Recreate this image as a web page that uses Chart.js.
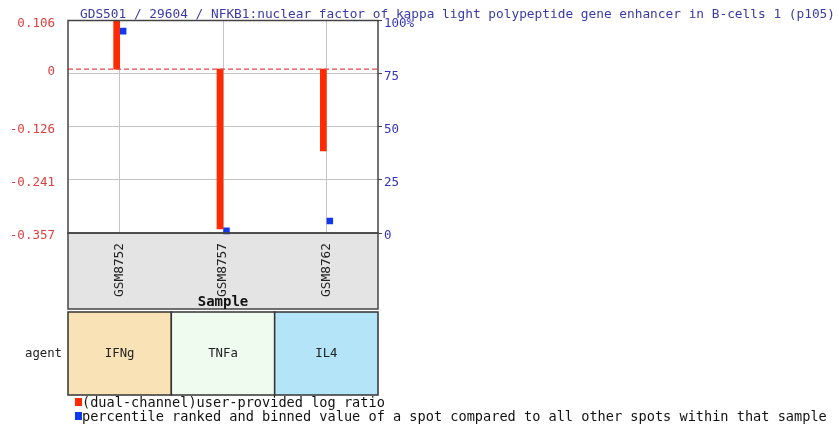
<!DOCTYPE html>
<html>
<head>
<meta charset="utf-8">
<script src="https://cdn.jsdelivr.net/npm/chart.js@4.4.1/dist/chart.umd.min.js"></script>
<style>
  html, body { margin: 0; padding: 0; background: #fff; }
</style>
</head>
<body>
<canvas id="geoChart" width="838" height="433"></canvas>
<script>
// values
const samples = ['GSM8752', 'GSM8757', 'GSM8762'];
const logRatio = [0.106, -0.348, -0.178];
const percentile = [95, 1, 5.6];
const agents = ['IFNg', 'TNFa', 'IL4'];
const agentColors = ['#f9e2b6', '#f0fbf0', '#b4e4f8'];
const leftTicks = [0.106, 0, -0.126, -0.241, -0.357];
const rightTicks = [0, 25, 50, 75, 100];
const chartTitle = 'GDS501 / 29604 / NFKB1:nuclear factor of kappa light polypeptide gene enhancer in B-cells 1 (p105)';
const legendLabels = ['(dual-channel)user-provided log ratio',
  'percentile ranked and binned value of a spot compared to all other spots within that sample'];

const RED = '#ff2a00';
const BLUE = '#1238ee';
const MONO = '"DejaVu Sans Mono", monospace';

// extra drawing: sample box, agent row, legend, title, zero line
const geoExtras = {
  id: 'geoExtras',
  beforeDatasetDraw(chart, args) {
    chart.ctx.save();
    // bar sits just left of the sample line, percentile mark just right of it
    chart.ctx.translate(args.index === 0 ? -3 : 3.5, 0);
  },
  afterDatasetDraw(chart) {
    chart.ctx.restore();
  },
  beforeDraw(chart) {
    const { ctx, chartArea: a } = chart;
    ctx.save();
    ctx.fillStyle = '#e4e4e4';
    ctx.fillRect(a.left, a.bottom, a.right - a.left, 76);
    ctx.restore();
  },
  afterDatasetsDraw(chart) {
    const { ctx, chartArea: a } = chart;
    const y0 = chart.scales.y.getPixelForValue(0);
    ctx.save();
    ctx.strokeStyle = '#e04848';
    ctx.lineWidth = 1.2;
    ctx.setLineDash([5, 3]);
    ctx.beginPath();
    ctx.moveTo(a.left, y0);
    ctx.lineTo(a.right, y0);
    ctx.stroke();
    ctx.restore();
  },
  afterDraw(chart) {
    const { ctx, chartArea: a } = chart;
    const w = (a.right - a.left) / samples.length;
    ctx.save();

    // plot frame and sample box frame
    ctx.strokeStyle = '#444';
    ctx.lineWidth = 1.5;
    ctx.strokeRect(a.left, a.top, a.right - a.left, a.bottom - a.top);
    ctx.strokeRect(a.left, a.bottom, a.right - a.left, 76);

    ctx.fillStyle = '#111';
    ctx.font = 'bold 14px ' + MONO;
    ctx.textAlign = 'center';
    ctx.textBaseline = 'alphabetic';
    ctx.fillText('Sample', (a.left + a.right) / 2, 306);

    // agent row
    const top = 312, h = 83;
    agents.forEach((ag, i) => {
      const x = a.left + i * w;
      ctx.fillStyle = agentColors[i];
      ctx.fillRect(x, top, w, h);
      ctx.strokeStyle = '#333';
      ctx.strokeRect(x, top, w, h);
      ctx.fillStyle = '#222';
      ctx.font = '12.3px ' + MONO;
      ctx.textBaseline = 'middle';
      ctx.fillText(ag, x + w / 2, top + h / 2);
    });
    ctx.textAlign = 'right';
    ctx.fillText('agent', 62, top + h / 2);

    // legend
    ctx.textAlign = 'left';
    ctx.textBaseline = 'alphabetic';
    ctx.font = '13.6px ' + MONO;
    [RED, BLUE].forEach((c, i) => {
      const y = 407 + i * 14;
      ctx.fillStyle = c;
      ctx.fillRect(75, y - 9, 7, 8);
      ctx.fillStyle = '#111';
      ctx.fillText(legendLabels[i], 82, y);
    });

    // title
    ctx.fillStyle = '#3a3aa8';
    ctx.font = '12.8px ' + MONO;
    ctx.fillText(chartTitle, 80, 18);
    ctx.restore();
  }
};

new Chart(document.getElementById('geoChart'), {
  type: 'bar',
  data: {
    labels: samples,
    datasets: [{
      type: 'bar',
      label: legendLabels[0],
      data: logRatio,
      yAxisID: 'y',
      backgroundColor: RED,
      borderWidth: 0,
      barThickness: 6
    }, {
      type: 'line',
      label: legendLabels[1],
      data: percentile,
      yAxisID: 'y1',
      showLine: false,
      pointStyle: 'rect',
      pointRadius: 4.6,
      pointBorderWidth: 0,
      pointBackgroundColor: BLUE,
      clip: 6
    }]
  },
  options: {
    responsive: false,
    animation: false,
    devicePixelRatio: 1,
    layout: { padding: { left: 0, right: 420, top: 20, bottom: 123 } },
    plugins: {
      legend: { display: false },
      tooltip: { enabled: false }
    },
    scales: {
      x: {
        offset: true,
        afterFit(scale) { scale.height = 77; },
        grid: { offset: false, color: '#c4c4c4', drawTicks: false },
        border: { display: false },
        ticks: {
          minRotation: 90,
          maxRotation: 90,
          padding: 10,
          color: '#222',
          font: { family: MONO, size: 12.8 }
        }
      },
      y: {
        position: 'left',
        min: -0.357,
        max: 0.106,
        afterFit(scale) { scale.width = 68; },
        afterBuildTicks(scale) { scale.ticks = leftTicks.map(v => ({ value: v })); },
        grid: { display: false, drawTicks: false },
        border: { display: false },
        ticks: {
          padding: 13,
          labelOffset: 3,
          color: '#dd4040',
          font: { family: MONO, size: 12.5 },
          callback: v => (v === 0 ? '0' : v.toFixed(3))
        }
      },
      y1: {
        position: 'right',
        min: 0,
        max: 100,
        afterFit(scale) { scale.width = 40; },
        afterBuildTicks(scale) { scale.ticks = rightTicks.map(v => ({ value: v })); },
        grid: { color: '#c4c4c4', tickColor: '#444', tickLength: 4 },
        border: { display: false },
        ticks: {
          padding: 2,
          labelOffset: 3,
          color: '#3333bb',
          font: { family: MONO, size: 12.5 },
          callback: v => (v === 100 ? '100%' : String(v))
        }
      }
    }
  },
  plugins: [geoExtras]
});
</script>
</body>
</html>
